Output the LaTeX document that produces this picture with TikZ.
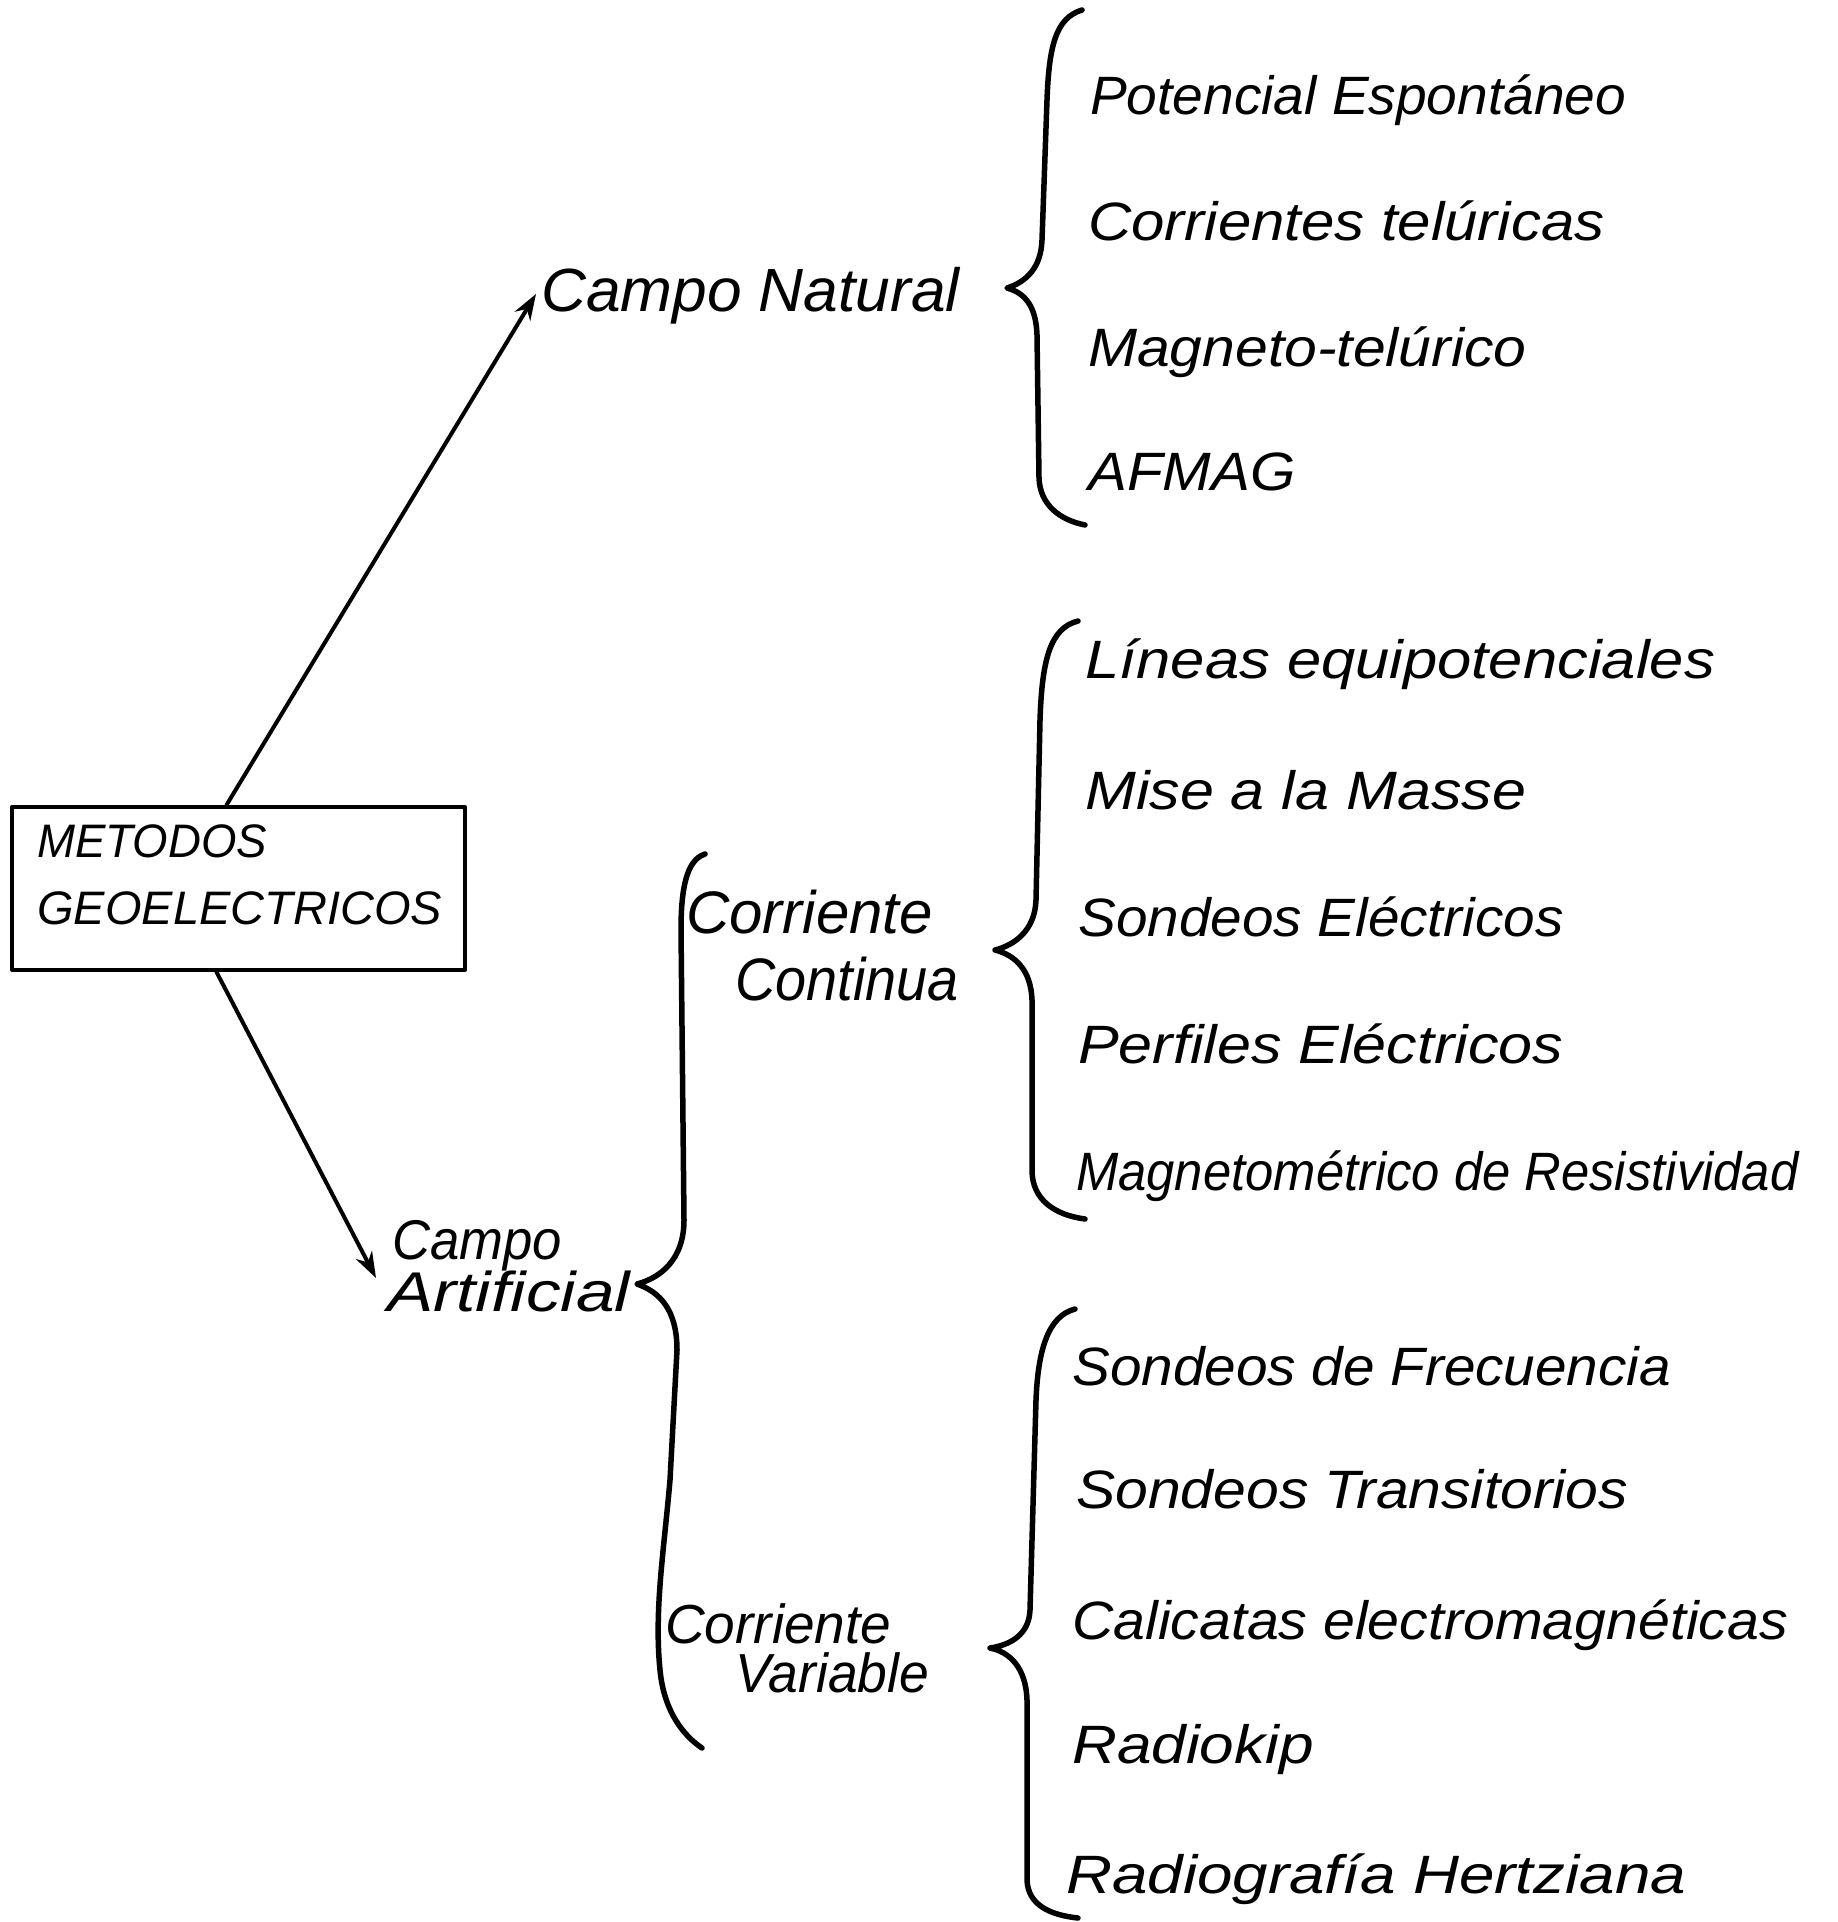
\documentclass[tikz,border=0pt]{standalone}
\usepackage{fontspec}
\usepackage{graphicx}
\setmainfont{Liberation Sans}
\usetikzlibrary{arrows.meta}
\newcommand{\sx}[2]{\scalebox{#1}[1]{#2}}
\newcommand{\tightlines}{\lineskiplimit=-100pt\relax}
\begin{document}
\begin{tikzpicture}[x=1pt,y=-1pt,
  pen/.style={line width=4pt, line cap=round, line join=round},
  bracepen/.style={line width=5.5pt, line cap=round, line join=round},
  itemtxt/.style={anchor=west, inner sep=0pt, font={\fontsize{54}{60}\selectfont\itshape}},
  midtxt/.style={anchor=west, inner sep=0pt, align=left},
  arrowtip/.style={-{Stealth[length=26pt,width=18pt]}}
]
\useasboundingbox (0,0) rectangle (1837,1922);
\fill[white] (0,0) rectangle (1837,1922);

% root box and its text
\node[draw, pen, anchor=north west, minimum width=453pt, minimum height=163pt, inner sep=0pt] (box) at (10,805) {};
\node[anchor=north west, inner sep=0pt, align=left,
      font={\fontsize{47}{67}\selectfont\itshape\tightlines}] (boxtxt) at (37,824) {\sx{0.97}{METODOS}\\GEOELECTRICOS};

% second level
\node[midtxt, font={\fontsize{61}{60}\selectfont\itshape}] (natural) at (541,296) {\sx{1.02}{Campo Natural}};
\node[midtxt, font={\fontsize{56}{52}\selectfont\itshape\tightlines}] (artificial) at (387,1266)
  {\hspace{5pt}\sx{0.94}{Campo}\\\sx{1.24}{Artificial}};

% third level
\node[midtxt, font={\fontsize{60}{67}\selectfont\itshape\tightlines}] (continua) at (686,946)
  {Corriente\\\hspace{49pt}\sx{0.93}{Continua}};
\node[midtxt, font={\fontsize{55}{49}\selectfont\itshape\tightlines}] (variable) at (665,1648)
  {Corriente\\\hspace{70pt}\sx{0.97}{Variable}};

% items: natural field
\node[itemtxt] (pe) at (1090,100) {\sx{1.02}{Potencial Espontáneo}};
\node[itemtxt] (ct) at (1088,221) {\sx{1.11}{Corrientes telúricas}};
\node[itemtxt] (mt) at (1088,352) {\sx{1.09}{Magneto-telúrico}};
\node[itemtxt] (af) at (1088,472) {\sx{1.08}{AFMAG}};

% items: continuous current
\node[itemtxt] (le) at (1085,664) {\sx{1.14}{Líneas equipotenciales}};
\node[itemtxt] (mm) at (1085,790) {\sx{1.13}{Mise a la Masse}};
\node[itemtxt] (se) at (1078,917) {\sx{1.05}{Sondeos Eléctricos}};
\node[itemtxt] (pf) at (1078,1044) {\sx{1.13}{Perfiles Eléctricos}};
\node[itemtxt] (mr) at (1076,1176) {\sx{0.94}{Magnetométrico de Resistividad}};

% items: variable current
\node[itemtxt] (sf) at (1072,1366) {\sx{1.05}{Sondeos de Frecuencia}};
\node[itemtxt] (st) at (1076,1489) {\sx{1.09}{Sondeos Transitorios}};
\node[itemtxt] (ce) at (1072,1625) {\sx{1.06}{Calicatas electromagnéticas}};
\node[itemtxt] (rk) at (1072,1750) {\sx{1.15}{Radiokip}};
\node[itemtxt] (rh) at (1066,1879) {\sx{1.18}{Radiografía Hertziana}};

% arrows
\draw[pen, arrowtip] ([xshift=-12pt]box.north) -- ([xshift=-5pt,yshift=2pt]natural.west);
\draw[pen, arrowtip] ([xshift=-22pt]box.south) -- ([xshift=-11pt,yshift=-12pt]artificial.west);

% brace: Campo Natural
\draw[bracepen] (1082,10) .. controls (1056,18) and (1049,45) .. (1047,100)
  -- (1042,240) .. controls (1041,268) and (1026,282) .. (1007,288)
  .. controls (1025,293) and (1036,306) .. (1037,335)
  -- (1039,478) .. controls (1040,505) and (1060,520) .. (1085,525);

% brace: Campo Artificial
\draw[bracepen] (705,854) .. controls (686,860) and (681,890) .. (681,930)
  -- (684,1220) .. controls (684,1260) and (660,1278) .. (637,1284)
  .. controls (660,1292) and (677,1310) .. (677,1350)
  -- (670,1480) .. controls (664,1550) and (654,1610) .. (660,1670)
  .. controls (664,1712) and (684,1736) .. (702,1748);

% brace: Corriente Continua
\draw[bracepen] (1078,621) .. controls (1050,628) and (1042,660) .. (1040,720)
  -- (1036,900) .. controls (1035,930) and (1015,945) .. (995,950)
  .. controls (1015,955) and (1031,970) .. (1032,1000)
  -- (1032,1170) .. controls (1032,1200) and (1055,1215) .. (1085,1219);

% brace: Corriente Variable
\draw[bracepen] (1075,1309) .. controls (1048,1316) and (1038,1350) .. (1036,1400)
  -- (1030,1610) .. controls (1029,1635) and (1010,1645) .. (990,1648)
  .. controls (1010,1652) and (1026,1668) .. (1027,1700)
  -- (1027,1880) .. controls (1028,1905) and (1050,1915) .. (1078,1918);
\end{tikzpicture}
\end{document}
